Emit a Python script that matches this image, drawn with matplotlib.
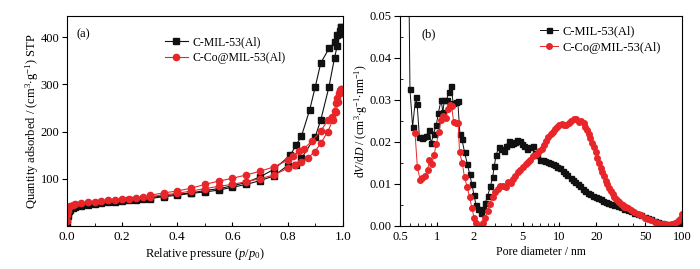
import matplotlib
matplotlib.use('Agg')
import matplotlib.pyplot as plt
from matplotlib.ticker import MultipleLocator, FixedLocator, FixedFormatter, NullFormatter, LogLocator

plt.rcParams.update({
    'font.family': ['Liberation Serif', 'DejaVu Serif'],
    'font.size': 9,
    'mathtext.fontset': 'custom',
    'mathtext.rm': 'Liberation Serif',
    'mathtext.it': 'Liberation Serif:italic',
    'mathtext.bf': 'Liberation Serif:bold',
})

black = '#111111'
red = '#e8262a'
names = ['C-MIL-53(Al)', 'C-Co@MIL-53(Al)']

# (a) N2 isotherms: adsorption then desorption branches
p_ads_mil = [0.0005, 0.001, 0.002, 0.004, 0.007, 0.01, 0.02, 0.03, 0.05, 0.075, 0.1, 0.125, 0.15,
             0.175, 0.2, 0.225, 0.25, 0.275, 0.3, 0.35, 0.4, 0.45, 0.5, 0.55, 0.6, 0.65, 0.7, 0.75,
             0.8, 0.83, 0.85, 0.9, 0.92, 0.95, 0.97, 0.98, 0.99, 0.995]
q_ads_mil = [4, 14, 22, 28, 32, 34, 38, 40, 43, 45, 47, 49, 50, 51, 53, 54, 55, 57, 58, 62, 65,
             69, 72, 76, 82, 88, 96, 106, 128, 130, 143, 189, 224, 295, 356, 382, 407, 421]
p_des_mil = [0.995, 0.99, 0.98, 0.97, 0.95, 0.92, 0.9, 0.88, 0.85, 0.83, 0.81, 0.75, 0.7, 0.65,
             0.6, 0.55, 0.5, 0.45, 0.4, 0.35, 0.3]
q_des_mil = [421, 413, 405, 389, 376, 345, 294, 246, 190, 171, 150, 120, 104, 92, 85, 79, 75,
             70, 67, 64, 60]

p_ads_co = [0.0005, 0.001, 0.002, 0.004, 0.007, 0.01, 0.02, 0.03, 0.05, 0.075, 0.1, 0.125, 0.15,
            0.175, 0.2, 0.225, 0.25, 0.275, 0.3, 0.35, 0.4, 0.45, 0.5, 0.55, 0.6, 0.65, 0.7, 0.75,
            0.8, 0.825, 0.85, 0.873, 0.898, 0.92, 0.946, 0.964, 0.976, 0.982, 0.99, 0.995]
q_ads_co = [10, 24, 32, 37, 40, 42, 44, 46, 48, 50, 51, 53, 54, 56, 57, 58, 59, 61, 62, 66, 69,
            74, 79, 84, 88, 94, 100, 108, 122, 130, 136, 144, 157, 175, 200, 225, 242, 262, 282, 291]
p_des_co = [0.995, 0.99, 0.985, 0.98, 0.975, 0.97, 0.96, 0.946, 0.92, 0.89, 0.86, 0.84, 0.82,
            0.8, 0.75, 0.7, 0.65, 0.6, 0.55, 0.5, 0.45, 0.4, 0.35, 0.3]
q_des_co = [291, 288, 281, 272, 260, 244, 230, 224, 201, 181, 164, 158, 149, 139, 125, 116, 108,
            101, 95, 88, 80, 74, 70, 65]

# (b) pore size distributions
d_mil = [0.59, 0.603, 0.634, 0.671, 0.69, 0.72, 0.75, 0.776, 0.818, 0.865, 0.9, 0.94, 0.99, 1.03,
         1.08, 1.12, 1.15, 1.2, 1.25, 1.3, 1.36, 1.42, 1.48, 1.54, 1.6, 1.68, 1.77, 1.85, 1.93,
         2.01, 2.08, 2.18, 2.27, 2.36, 2.48, 2.59, 2.73, 2.85, 2.94, 3.04, 3.19, 3.35, 3.5, 3.67,
         3.84, 3.99, 4.17, 4.36, 4.53, 4.74, 4.95, 5.18, 5.44, 5.73, 6.03, 6.3, 6.5, 6.9, 7.3, 7.6,
         8.0, 8.4, 8.8, 9.2, 9.6, 10.1, 10.7, 11.1, 11.6, 12.3, 12.8, 13.5, 14.1, 14.8, 15.6, 16.3,
         17.2, 17.9, 18.9, 19.7, 20.8, 21.7, 22.8, 23.9, 25.1, 26.2, 27.9, 29.8, 31.8, 33.8, 36.0,
         38.4, 40.9, 43.6, 46.5, 49.5, 52.7, 56.2, 59.8, 63.8, 68.0, 72.5, 77.3, 82.2, 87.5, 93.3,
         99.5]
v_mil = [0.060, 0.0325, 0.0236, 0.0307, 0.0290, 0.0212, 0.0209, 0.0211, 0.0215, 0.0228, 0.0197,
         0.0220, 0.0241, 0.0270, 0.0299, 0.0272, 0.0299, 0.0300, 0.0319, 0.0334, 0.0292, 0.0295,
         0.0298, 0.0220, 0.0207, 0.0176, 0.0148, 0.0124, 0.0099, 0.0073, 0.0051, 0.0040, 0.0032,
         0.0040, 0.0055, 0.0071, 0.0094, 0.0116, 0.0143, 0.0168, 0.0188, 0.0182, 0.0178, 0.0190,
         0.0203, 0.0195, 0.0198, 0.0200, 0.0205, 0.0202, 0.0196, 0.0190, 0.0184, 0.0188, 0.0190,
         0.0173, 0.0168, 0.0158, 0.0156, 0.0154, 0.0153, 0.0150, 0.0147, 0.0144, 0.0141, 0.0137,
         0.0131, 0.0126, 0.0121, 0.0115, 0.0110, 0.0104, 0.0099, 0.0094, 0.0088, 0.0083, 0.0079,
         0.0076, 0.0072, 0.0069, 0.0066, 0.0063, 0.0060, 0.0057, 0.0055, 0.0053, 0.0050, 0.0047,
         0.0044, 0.0041, 0.0038, 0.0035, 0.0031, 0.0028, 0.0025, 0.0022, 0.0019, 0.0016, 0.0012,
         0.0009, 0.0007, 0.0005, 0.0004, 0.0004, 0.0005, 0.0007, 0.0014]

d_co = [0.663, 0.693, 0.73, 0.76, 0.8, 0.84, 0.87, 0.91, 0.95, 0.99, 1.04, 1.08, 1.12, 1.18, 1.23,
        1.28, 1.32, 1.37, 1.43, 1.49, 1.53, 1.61, 1.68, 1.77, 1.85, 1.93, 2.01, 2.1, 2.18, 2.28,
        2.38, 2.48, 2.59, 2.7, 2.85, 2.98, 3.13, 3.3, 3.47, 3.63, 3.8, 4.0, 4.17, 4.36, 4.58, 4.8,
        5.04, 5.31, 5.54, 5.8, 6.03, 6.3, 6.58, 6.84, 7.15, 7.47, 7.76, 8.11, 8.49, 8.82, 9.21,
        9.62, 10.0, 10.47, 10.93, 11.36, 11.87, 12.42, 13.05, 13.65, 14.36, 15.03, 15.79, 16.3,
        16.8, 17.4, 17.9, 18.5, 19.2, 19.7, 20.4, 21.0, 21.7, 22.4, 23.1, 23.9, 24.6, 25.4, 26.2,
        27.1, 27.9, 28.9, 29.8, 30.7, 31.8, 32.8, 33.8, 34.9, 36.0, 38.4, 40.9, 43.6, 46.5, 49.5,
        52.7, 56.2, 59.8, 63.8, 68.0, 72.5, 77.3, 82.2, 87.5, 93.3, 97.0, 99.5]
v_co = [0.0222, 0.0140, 0.0110, 0.0113, 0.0118, 0.0134, 0.0156, 0.0147, 0.0170, 0.0196, 0.0223,
        0.0252, 0.0261, 0.0256, 0.0278, 0.0288, 0.0285, 0.0247, 0.0246, 0.0245, 0.0176, 0.0150,
        0.0116, 0.0092, 0.0068, 0.0043, 0.0020, 0.0006, 0.0000, 0.0000, 0.0006, 0.0020, 0.0036,
        0.0052, 0.0070, 0.0080, 0.0088, 0.0096, 0.0094, 0.0092, 0.0104, 0.0102, 0.0112, 0.0118,
        0.0128, 0.0134, 0.0140, 0.0147, 0.0152, 0.0158, 0.0166, 0.0168, 0.0172, 0.0178, 0.0184,
        0.0192, 0.0203, 0.0211, 0.0219, 0.0224, 0.0230, 0.0236, 0.0240, 0.0243, 0.0240, 0.0240,
        0.0244, 0.0250, 0.0255, 0.0254, 0.0248, 0.0250, 0.0244, 0.0236, 0.0228, 0.0219, 0.0210,
        0.0198, 0.0187, 0.0176, 0.0162, 0.0150, 0.0139, 0.0128, 0.0118, 0.0108, 0.0099, 0.0091,
        0.0083, 0.0076, 0.0070, 0.0065, 0.0060, 0.0056, 0.0052, 0.0049, 0.0046, 0.0044, 0.0042,
        0.0038, 0.0034, 0.0029, 0.0025, 0.0020, 0.0016, 0.0013, 0.0010, 0.0007, 0.0005, 0.0004,
        0.0003, 0.0004, 0.0006, 0.0011, 0.0017, 0.0028]

fig = plt.figure(figsize=(7.0, 2.69), dpi=100)
ax1 = fig.add_axes([0.0957, 0.160, 0.394, 0.781])
ax2 = fig.add_axes([0.5714, 0.160, 0.403, 0.781])

# panel (a)
ax1.plot(p_ads_mil, q_ads_mil, '-s', color=black, lw=0.8, ms=4.2, label=names[0])
ax1.plot(p_des_mil, q_des_mil, '-s', color=black, lw=0.8, ms=4.2)
ax1.plot(p_ads_co, q_ads_co, '-o', color=red, lw=0.8, ms=4.5, label=names[1])
ax1.plot(p_des_co, q_des_co, '-o', color=red, lw=0.8, ms=4.5)
ax1.set_xlim(0, 1.0)
ax1.set_ylim(0, 445)
ax1.xaxis.set_minor_locator(MultipleLocator(0.1))
ax1.set_xticks([0, 0.2, 0.4, 0.6, 0.8, 1.0])
ax1.set_xticklabels(['0.0', '0.2', '0.4', '0.6', '0.8', '1.0'])
ax1.set_yticks([100, 200, 300, 400])
ax1.tick_params(axis='x', which='both', direction='in', labelsize=9.5)
ax1.tick_params(axis='x', which='major', length=3)
ax1.tick_params(axis='x', which='minor', length=2)
ax1.tick_params(axis='y', direction='out', length=3.5, labelsize=9, pad=2)
ax1.set_xlabel(r'Relative pressure ($p$/$p_0$)', fontsize=9, labelpad=2)
ax1.set_ylabel(r'Quantity adsorbed / (cm$^3$$\cdot$g$^{-1}$) STP', fontsize=9, labelpad=0)
ax1.text(0.035, 0.90, '(a)', transform=ax1.transAxes, fontsize=9)
ax1.legend(loc='upper left', bbox_to_anchor=(0.355, 0.905), frameon=False, fontsize=8.5,
           handlelength=1.95, handletextpad=0.42, labelspacing=0.35, borderpad=0, borderaxespad=0)

# panel (b)
ax2.plot(d_mil, v_mil, '-s', color=black, lw=0.7, ms=3.6, label=names[0])
ax2.plot(d_co, v_co, '-o', color=red, lw=0.7, ms=4.0, label=names[1])
ax2.set_xscale('log')
ax2.set_xlim(0.5, 100)
ax2.set_ylim(0, 0.05)
ticks_b = [0.5, 1, 2, 5, 10, 20, 50, 100]
ax2.xaxis.set_major_locator(FixedLocator(ticks_b))
ax2.xaxis.set_major_formatter(FixedFormatter(['0.5', '1', '2', '5', '10', '20', '50', '100']))
ax2.xaxis.set_minor_locator(LogLocator(base=10, subs=(3, 4, 6, 7, 8, 9)))
ax2.xaxis.set_minor_formatter(NullFormatter())
ax2.set_yticks([0, 0.01, 0.02, 0.03, 0.04, 0.05])
ax2.set_yticklabels(['0.00', '0.01', '0.02', '0.03', '0.04', '0.05'])
ax2.yaxis.set_minor_locator(MultipleLocator(0.005))
ax2.tick_params(axis='x', which='both', direction='in', labelsize=9)
ax2.tick_params(axis='x', which='major', length=3)
ax2.tick_params(axis='x', which='minor', length=2)
ax2.tick_params(axis='y', which='major', direction='out', length=4, labelsize=9, pad=2)
ax2.tick_params(axis='y', which='minor', direction='in', length=2)
ax2.set_xlabel('Pore diameter / nm', fontsize=8.5, labelpad=2)
ax2.set_ylabel(r'd$V$/d$D$ / (cm$^3$$\cdot$g$^{-1}$$\cdot$nm$^{-1}$)', fontsize=8.5, labelpad=0)
ax2.text(0.078, 0.90, '(b)', transform=ax2.transAxes, fontsize=9)
ax2.legend(loc='upper left', bbox_to_anchor=(0.496, 0.955), frameon=False, fontsize=9,
           handlelength=1.45, handletextpad=0.32, labelspacing=0.35, borderpad=0, borderaxespad=0)

fig.savefig('out.png', dpi=100)
